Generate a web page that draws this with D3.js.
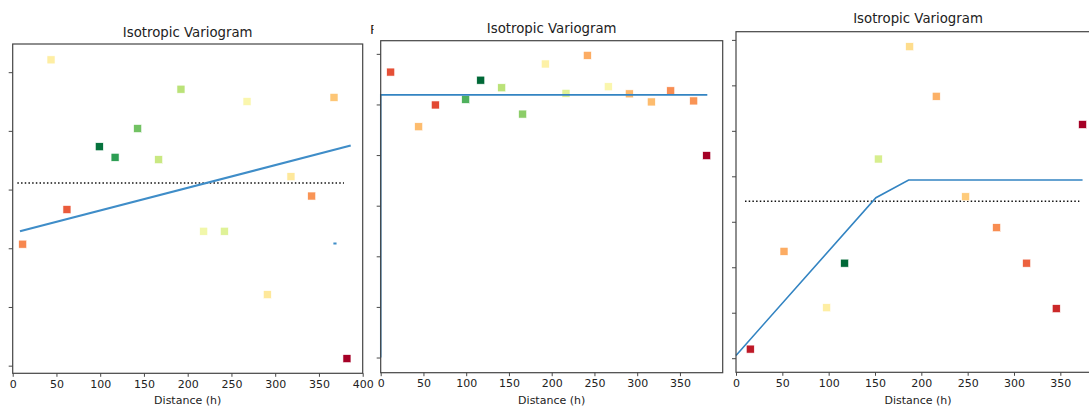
<!DOCTYPE html>
<html>
<head>
<meta charset="utf-8">
<script src="https://cdn.jsdelivr.net/npm/d3@7"></script>
<style>
    body { margin: 0; background: #fff; }
    svg { display: block; font-family: "DejaVu Sans", sans-serif; }
</style>
</head>
<body>
<div id="chart"></div>
<script>

// ---- data ----
// panel 1
let lag1   = [11.4, 43.8, 62, 99, 117, 142.8, 166.8, 192.3, 218.3, 241.9, 267.8, 291, 318, 341.7, 367.2, 382];
let gamma1 = [2.07, 5.21, 2.66, 3.73, 3.55, 4.04, 3.51, 4.71, 2.29, 2.29, 4.50, 1.21, 3.22, 2.89, 4.57, 0.12];
let tone1  = [0.24, 0.45, 0.17, 0.98, 0.88, 0.78, 0.63, 0.66, 0.53, 0.58, 0.49, 0.43, 0.43, 0.26, 0.35, 0.0];
let modelLag1   = [8.3, 386.3];
let modelGamma1 = [2.29, 3.75];
let sill1 = 3.11;
let sillLag1 = [5.3, 378.6];

// panel 2
let lag2   = [11.7, 44.4, 63.9, 99.4, 117, 141.5, 166, 192.5, 216.7, 241.7, 266.2, 290.8, 316.5, 339.2, 366.1, 381.3];
let gamma2 = [5.64, 4.56, 4.99, 5.10, 5.48, 5.33, 4.81, 5.80, 5.22, 5.97, 5.35, 5.21, 5.05, 5.27, 5.07, 3.99];
let tone2  = [0.15, 0.33, 0.14, 0.83, 1.0, 0.66, 0.74, 0.46, 0.58, 0.3, 0.49, 0.32, 0.33, 0.25, 0.26, 0.0];
let modelLag2   = [0, 0, 382];
let modelGamma2 = [0, 5.19, 5.19];

// panel 3
let lag3   = [15.4, 51.8, 97.8, 117.2, 153.6, 187.4, 216.1, 247.8, 281.2, 313.6, 345.6, 374];
let gamma3 = [0.20, 2.35, 1.11, 2.09, 4.38, 6.85, 5.76, 3.55, 2.87, 2.09, 1.09, 5.14];
let tone3  = [0.05, 0.3, 0.45, 1.0, 0.6, 0.4, 0.31, 0.36, 0.25, 0.18, 0.08, 0.0];
let modelLag3   = [0, 151, 186.3, 374];
let modelGamma3 = [0.06, 3.53, 3.92, 3.92];
let sill3 = 3.45;
let sillLag3 = [9.7, 370.5];

let xTicks1 = [0, 50, 100, 150, 200, 250, 300, 350, 400];
let xTicks2 = [0, 50, 100, 150, 200, 250, 300, 350];
let yTicks1 = [0, 1, 2, 3, 4, 5];
let yTicks2 = [0, 1, 2, 3, 4, 5, 6];
let yTicks3 = [0, 1, 2, 3, 4, 5, 6, 7];

let titleText = 'Isotropic Variogram';
let xLabelText = 'Distance (h)';


class VariogramVis {

    constructor(svg, cfg) {
        this.svg = svg;
        this.cfg = cfg;
        this.initVis();
    }

    initVis() {
        let vis = this;
        let c = vis.cfg;

        vis.x = d3.scaleLinear().domain(c.xDomain).range([c.left, c.right]);
        vis.y = d3.scaleLinear().domain(c.yDomain).range([c.bottom, c.top]);

        vis.g = vis.svg.append('g').attr('class', 'panel');

        // white backdrop so the panel sits on top of its neighbour
        vis.g.append('rect')
            .attr('x', c.left - 5)
            .attr('y', c.top)
            .attr('width', c.right - c.left + 5)
            .attr('height', c.bottom - c.top)
            .attr('fill', 'white');

        vis.clipId = 'clip-' + c.id;
        vis.g.append('clipPath').attr('id', vis.clipId)
            .append('rect')
            .attr('x', c.left - 1)
            .attr('y', c.top)
            .attr('width', c.right - c.left + 1)
            .attr('height', c.bottom - c.top);

        vis.plot = vis.g.append('g').attr('clip-path', `url(#${vis.clipId})`);

        // title
        vis.g.append('text')
            .attr('x', (c.left + c.right) / 2)
            .attr('y', c.titleY)
            .attr('text-anchor', 'middle')
            .attr('font-size', '13.3px')
            .attr('fill', '#222')
            .text(titleText);

        // axes
        let xAxis = d3.axisBottom(vis.x).tickValues(c.xTicks).tickSize(3.5).tickPadding(3).tickFormat(d3.format('d'));
        let yAxis = d3.axisLeft(vis.y).tickValues(c.yTicks).tickSize(4).tickFormat('');

        vis.xAxisG = vis.g.append('g')
            .attr('transform', `translate(0, ${c.bottom})`)
            .call(xAxis);
        vis.yAxisG = vis.g.append('g')
            .attr('transform', `translate(${c.left}, 0)`)
            .call(yAxis);

        vis.g.selectAll('.domain').remove();
        vis.g.selectAll('.tick line').attr('stroke', '#333').attr('stroke-width', 0.9);
        vis.xAxisG.selectAll('.tick text')
            .attr('font-size', '11px')
            .attr('fill', '#222')
            .attr('font-family', '"DejaVu Sans", sans-serif');

        // x label sits right on the bottom edge, like the source image
        vis.g.append('text')
            .attr('x', (c.left + c.right) / 2)
            .attr('y', 404)
            .attr('text-anchor', 'middle')
            .attr('font-size', '11px')
            .attr('fill', '#222')
            .text(xLabelText);

        vis.wrangleData();
    }

    wrangleData() {
        let vis = this;
        let c = vis.cfg;

        vis.points = c.lag.map((h, i) => ({h: h, g: c.gamma[i], t: c.tone[i]}));
        vis.model = c.modelLag.map((h, i) => [h, c.modelGamma[i]]);

        vis.updateVis();
    }

    updateVis() {
        let vis = this;
        let c = vis.cfg;
        let s = 8;

        // sill (dotted)
        if (c.sill !== undefined) {
            vis.plot.append('line')
                .attr('x1', vis.x(c.sillLag[0]))
                .attr('x2', vis.x(c.sillLag[1]))
                .attr('y1', vis.y(c.sill))
                .attr('y2', vis.y(c.sill))
                .attr('stroke', '#111')
                .attr('stroke-width', 1.5)
                .attr('stroke-dasharray', '1.5,2.2');
        }

        // experimental points
        vis.plot.selectAll('.pt')
            .data(vis.points)
            .enter().append('rect')
            .attr('class', 'pt')
            .attr('x', d => vis.x(d.h) - s / 2)
            .attr('y', d => vis.y(d.g) - s / 2)
            .attr('width', s)
            .attr('height', s)
            .attr('fill', d => d3.interpolateRdYlGn(d.t))
            .attr('stroke', 'white')
            .attr('stroke-width', 0.6);

        // fitted model
        let line = d3.line().x(d => vis.x(d[0])).y(d => vis.y(d[1]));
        vis.plot.append('path')
            .datum(vis.model)
            .attr('d', line)
            .attr('fill', 'none')
            .attr('stroke', c.lineColor)
            .attr('stroke-width', c.lineWidth);

        // leftover blue tick in the first panel
        if (c.stray) {
            vis.plot.append('line')
                .attr('x1', vis.x(c.stray[0] - 1.8))
                .attr('x2', vis.x(c.stray[0] + 1.8))
                .attr('y1', vis.y(c.stray[1]))
                .attr('y2', vis.y(c.stray[1]))
                .attr('stroke', c.lineColor)
                .attr('stroke-width', 2);
        }

        // frame
        vis.g.append('rect')
            .attr('x', c.left)
            .attr('y', c.top)
            .attr('width', c.right - c.left)
            .attr('height', c.bottom - c.top)
            .attr('fill', 'none')
            .attr('stroke', '#444')
            .attr('stroke-width', 1.2);
    }
}


let svg = d3.select('#chart').append('svg')
    .attr('width', 1089)
    .attr('height', 406);

new VariogramVis(svg, {
    id: 'p1', left: 12.7, right: 362.7, top: 44, bottom: 373.3, titleY: 36.5,
    xDomain: [0, 400], yDomain: [-0.13, 5.48], xTicks: xTicks1, yTicks: yTicks1,
    lag: lag1, gamma: gamma1, tone: tone1,
    modelLag: modelLag1, modelGamma: modelGamma1,
    sill: sill1, sillLag: sillLag1,
    lineColor: '#3f8dc8', lineWidth: 2.2, stray: [368.3, 2.08]
});

// tiny clipped glyph poking out between panel 1 and 2
svg.append('clipPath').attr('id', 'frag')
    .append('rect').attr('x', 369.5).attr('y', 24).attr('width', 4).attr('height', 10);
svg.append('text')
    .attr('x', 370)
    .attr('y', 33.5)
    .attr('font-size', '13px')
    .attr('fill', '#222')
    .attr('clip-path', 'url(#frag)')
    .text('F');

new VariogramVis(svg, {
    id: 'p2', left: 380.7, right: 722.7, top: 40.7, bottom: 372.7, titleY: 32.5,
    xDomain: [0, 400], yDomain: [-0.30, 6.26], xTicks: xTicks2, yTicks: yTicks2,
    lag: lag2, gamma: gamma2, tone: tone2,
    modelLag: modelLag2, modelGamma: modelGamma2,
    lineColor: '#3384c2', lineWidth: 1.6
});

new VariogramVis(svg, {
    id: 'p3', left: 736, right: 1100, top: 31.7, bottom: 372.3, titleY: 23,
    xDomain: [0, 392.8], yDomain: [-0.31, 7.18], xTicks: xTicks2, yTicks: yTicks3,
    lag: lag3, gamma: gamma3, tone: tone3,
    modelLag: modelLag3, modelGamma: modelGamma3,
    sill: sill3, sillLag: sillLag3,
    lineColor: '#3384c2', lineWidth: 1.6
});

</script>
</body>
</html>
